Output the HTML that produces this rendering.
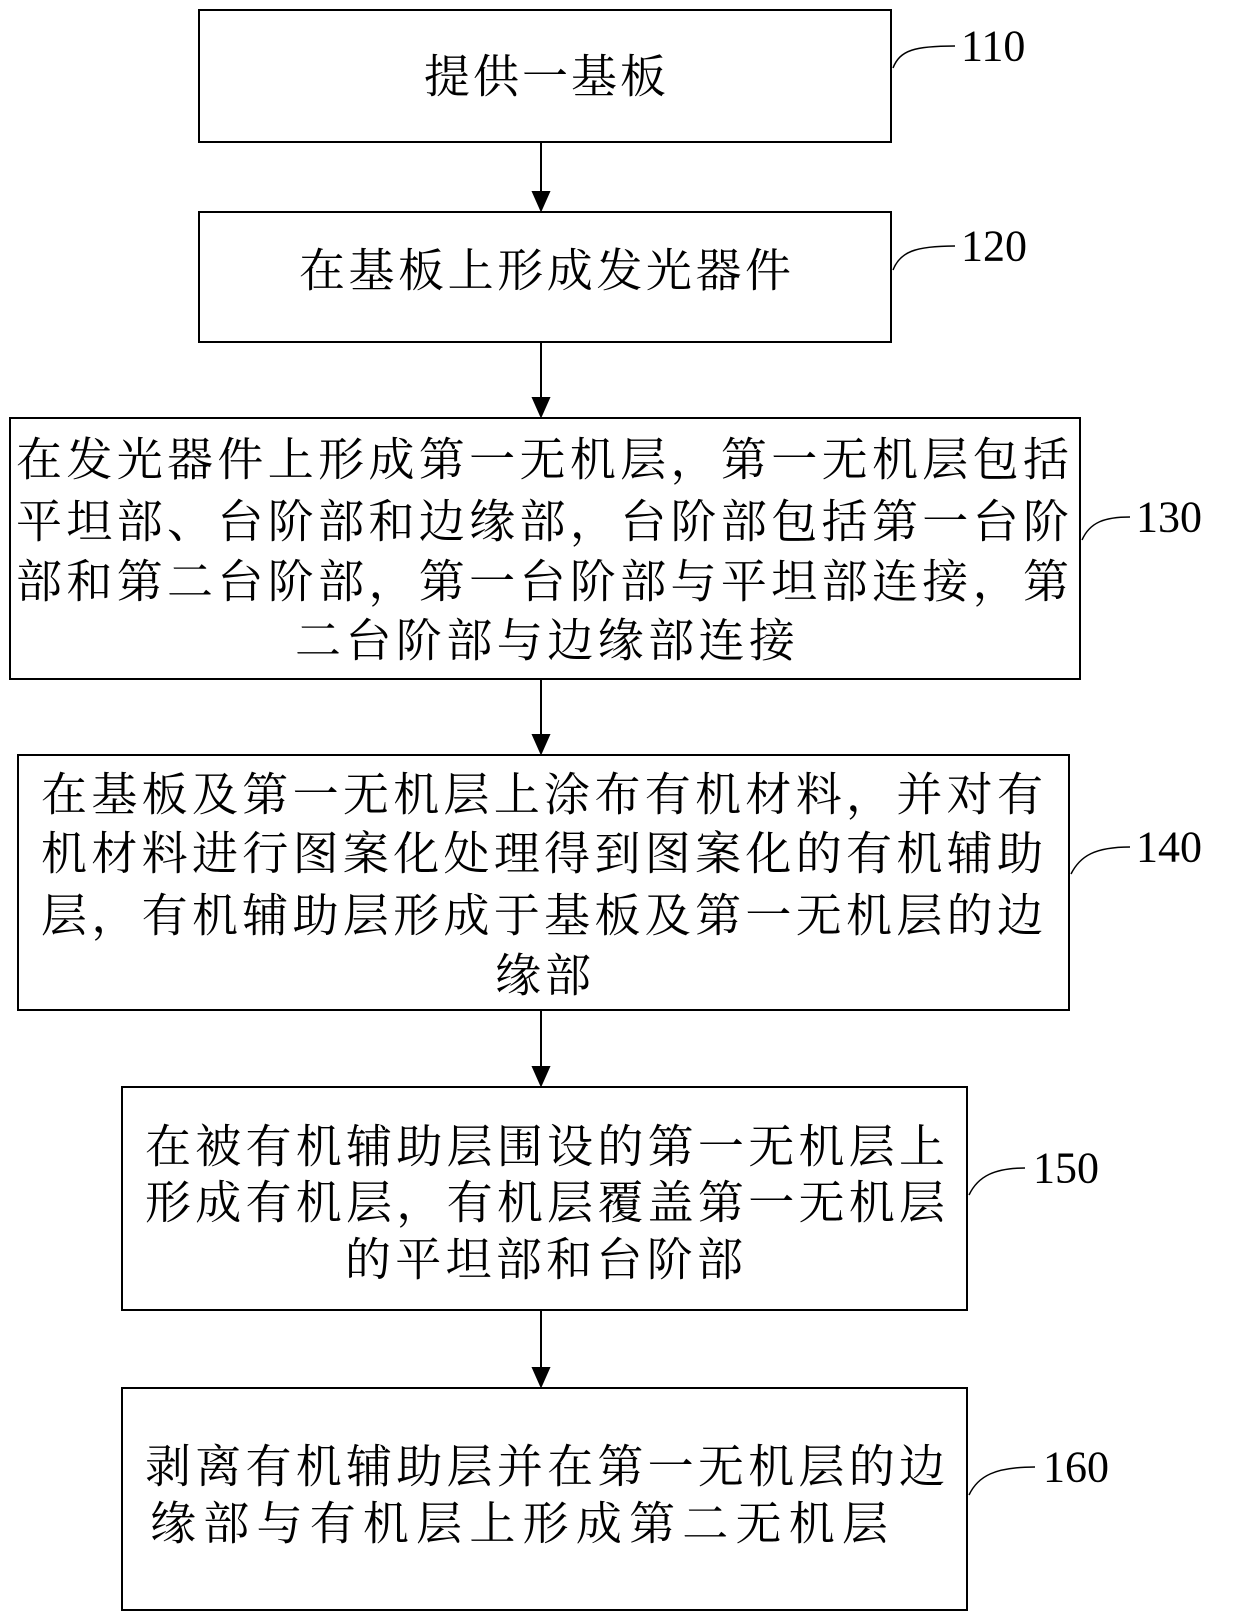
<!DOCTYPE html>
<html><head><meta charset="utf-8"><style>
html,body{margin:0;padding:0;background:#fff;}
svg{display:block;}
text{font-family:"Liberation Serif","Noto Serif CJK SC",serif;fill:#000;}
.c{font-size:46px;dominant-baseline:central;}
.n{font-size:44px;dominant-baseline:central;}
</style></head><body>
<svg width="1240" height="1620" viewBox="0 0 1240 1620" xmlns="http://www.w3.org/2000/svg">
<g fill="none" stroke="#000" stroke-width="2">
<rect x="199" y="10" width="692" height="132"/>
<rect x="199" y="212" width="692" height="130"/>
<rect x="10" y="418" width="1070" height="261"/>
<rect x="18" y="755" width="1051" height="255"/>
<rect x="122" y="1087" width="845" height="223"/>
<rect x="122" y="1388" width="845" height="222"/>
</g>
<g stroke="#000" stroke-width="2">
<line x1="541" y1="142" x2="541" y2="200"/><path d="M533,192 L541,210 L549,192 Z" fill="#000"/>
<line x1="541" y1="342" x2="541" y2="406"/><path d="M533,398 L541,416 L549,398 Z" fill="#000"/>
<line x1="541" y1="679" x2="541" y2="743"/><path d="M533,735 L541,753 L549,735 Z" fill="#000"/>
<line x1="541" y1="1010" x2="541" y2="1075"/><path d="M533,1067 L541,1085 L549,1067 Z" fill="#000"/>
<line x1="541" y1="1310" x2="541" y2="1376"/><path d="M533,1368 L541,1386 L549,1368 Z" fill="#000"/>
</g>
<g fill="none" stroke="#000" stroke-width="1.5">
<path d="M893,68 C900,50 915,46 955,46"/>
<path d="M893,270 C900,252 915,246 955,246"/>
<path d="M1082,540 C1090,522 1105,517 1130,517"/>
<path d="M1071,874 C1080,856 1095,847 1130,847"/>
<path d="M969,1195 C978,1176 995,1168 1025,1168"/>
<path d="M969,1495 C978,1476 995,1467 1035,1467"/>
</g>
<text class="n" x="961" y="46">110</text>
<text class="n" x="961" y="246">120</text>
<text class="n" x="1136" y="517">130</text>
<text class="n" x="1136" y="847">140</text>
<text class="n" x="1033" y="1168">150</text>
<text class="n" x="1043" y="1467">160</text>

<text class="c" x="545" y="77" text-anchor="middle" textLength="242">提供一基板</text>
<text class="c" x="545" y="271" text-anchor="middle" textLength="492">在基板上形成发光器件</text>

<text class="c" x="16" y="460" textLength="1053" lengthAdjust="spacing">在发光器件上形成第一无机层，第一无机层包括</text>
<text class="c" x="16" y="522" textLength="1053" lengthAdjust="spacing">平坦部、台阶部和边缘部，台阶部包括第一台阶</text>
<text class="c" x="16" y="582" textLength="1053" lengthAdjust="spacing">部和第二台阶部，第一台阶部与平坦部连接，第</text>
<text class="c" x="545" y="641" text-anchor="middle" textLength="500" lengthAdjust="spacing">二台阶部与边缘部连接</text>

<text class="c" x="41" y="795" textLength="1002" lengthAdjust="spacing">在基板及第一无机层上涂布有机材料，并对有</text>
<text class="c" x="41" y="854" textLength="1002" lengthAdjust="spacing">机材料进行图案化处理得到图案化的有机辅助</text>
<text class="c" x="41" y="916" textLength="1002" lengthAdjust="spacing">层，有机辅助层形成于基板及第一无机层的边</text>
<text class="c" x="543" y="976" text-anchor="middle" textLength="96" lengthAdjust="spacing">缘部</text>

<text class="c" x="145" y="1147" textLength="800" lengthAdjust="spacing">在被有机辅助层围设的第一无机层上</text>
<text class="c" x="145" y="1203" textLength="800" lengthAdjust="spacing">形成有机层，有机层覆盖第一无机层</text>
<text class="c" x="544" y="1260" text-anchor="middle" textLength="398" lengthAdjust="spacing">的平坦部和台阶部</text>

<text class="c" x="145" y="1467" textLength="800" lengthAdjust="spacing">剥离有机辅助层并在第一无机层的边</text>
<text class="c" x="150" y="1524" textLength="738" lengthAdjust="spacing">缘部与有机层上形成第二无机层</text>
</svg>
</body></html>
